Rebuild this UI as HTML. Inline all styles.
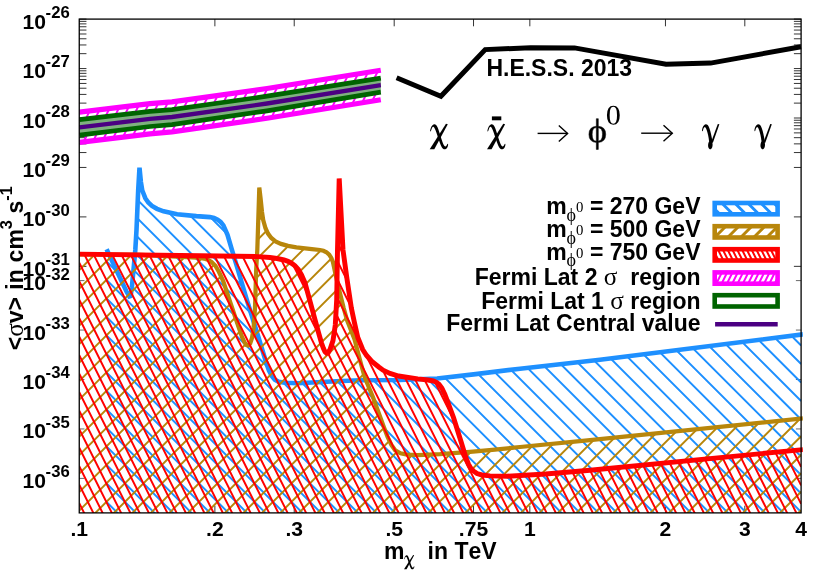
<!DOCTYPE html>
<html><head><meta charset="utf-8"><title>plot</title>
<style>html,body{margin:0;padding:0;background:#fff;}body{width:830px;height:581px;overflow:hidden;position:relative;font-family:"Liberation Sans",sans-serif;}</style>
</head><body>
<svg width="830" height="581" viewBox="0 0 830 581" style="display:block;position:absolute;left:0;top:0;will-change:transform;font-kerning:none">
<defs>
<clipPath id="cb"><polygon points="106.6,249.3 116.3,270.0 126.5,291.5 129.3,296.5 130.6,296.0 131.8,288.0 133.5,270.0 135.3,250.0 136.5,230.0 138.2,190.0 139.5,167.6 140.9,182.0 142.3,190.5 145.3,198.2 148.3,202.5 152.0,205.9 157.0,208.8 163.6,211.3 177.1,214.2 196.4,216.1 209.9,217.1 214.0,217.9 217.6,219.6 220.6,222.0 223.4,225.4 227.5,234.8 232.0,250.2 237.8,269.3 246.3,298.2 254.2,323.5 260.5,344.0 266.3,363.0 269.0,370.5 271.8,375.9 274.8,379.6 278.6,381.7 285.0,382.8 297.8,383.2 336.4,381.3 360.0,380.2 400.0,380.0 417.8,379.3 437.1,378.5 475.7,374.1 520.0,368.7 600.0,359.8 801.1,334.4 801.1,512.9 106.6,512.9"/></clipPath>
<clipPath id="cg"><polygon points="79.5,254.4 140.0,254.9 192.0,257.4 200.0,258.0 204.0,258.6 207.7,259.8 211.5,262.0 215.4,265.8 219.0,272.0 223.1,280.8 230.8,304.0 238.6,327.1 242.0,337.0 244.3,342.0 246.4,345.0 248.2,345.6 250.2,343.5 252.0,338.0 253.6,328.0 255.0,307.8 256.2,269.3 257.3,250.0 259.3,187.6 260.6,198.5 262.0,212.0 263.2,220.0 265.5,228.2 268.0,233.6 271.3,238.0 275.5,241.5 281.0,243.9 288.0,245.9 296.4,247.4 311.8,249.1 320.0,250.0 323.4,250.8 326.5,252.2 329.2,254.6 331.3,258.0 333.0,262.2 335.0,271.8 338.8,288.6 343.6,307.8 347.0,320.0 354.5,339.3 361.3,365.0 364.9,377.8 372.9,397.0 384.0,427.5 387.6,437.0 391.4,445.0 395.2,450.3 400.5,453.3 407.0,454.6 417.8,455.1 440.0,454.2 470.0,451.8 495.0,449.6 520.0,447.0 590.0,440.1 801.1,418.4 801.1,512.9 79.5,512.9"/></clipPath>
<clipPath id="cr"><polygon points="79.5,254.1 200.0,255.8 257.8,256.6 270.0,257.5 277.0,258.5 284.0,260.0 288.0,261.3 291.5,263.2 295.0,265.8 298.3,269.5 301.5,275.0 305.0,282.8 311.8,307.8 318.6,332.9 321.5,343.0 323.4,348.3 325.0,351.8 326.5,353.2 328.2,352.6 330.0,349.5 333.0,340.6 335.3,325.0 336.7,300.0 337.5,250.0 339.2,178.5 343.0,250.0 347.0,279.0 351.3,307.8 354.3,322.0 357.8,337.5 362.7,349.5 366.6,355.5 371.6,361.2 378.8,367.0 383.1,370.2 390.0,373.4 398.6,376.0 417.8,378.9 428.0,380.0 433.3,381.0 436.5,382.3 439.0,384.2 441.8,388.0 444.8,394.3 446.4,398.5 453.5,417.5 461.0,441.5 466.0,458.0 468.5,464.2 470.8,468.2 473.4,471.0 477.0,473.6 482.0,475.0 490.0,475.9 507.1,476.2 545.7,474.0 590.0,470.2 801.1,449.6 801.1,512.9 79.5,512.9"/></clipPath>
<clipPath id="cplot"><rect x="79.25" y="19.10" width="723.55" height="493.80"/></clipPath>
</defs>
<rect width="830" height="581" fill="#fff"/>
<path d="M79.25 478.40h5.20M801.10 478.40h-5.20M79.25 428.95h5.20M801.10 428.95h-5.20M79.25 379.50h5.20M801.10 379.50h-5.20M79.25 330.05h5.20M801.10 330.05h-5.20M79.25 280.60h5.20M801.10 280.60h-5.20" stroke="#444" stroke-width="0.8" fill="none"/>
<path d="M79.25 19.10h7.20M801.10 19.10h-7.20M79.25 68.55h7.20M801.10 68.55h-7.20M79.25 118.00h7.20M801.10 118.00h-7.20M79.25 167.45h7.20M801.10 167.45h-7.20M79.25 216.90h7.20M801.10 216.90h-7.20M79.25 266.35h7.20M801.10 266.35h-7.20M79.25 53.66h7.20M801.10 53.66h-7.20M79.25 44.96h7.20M801.10 44.96h-7.20M79.25 38.78h7.20M801.10 38.78h-7.20M79.25 33.99h7.20M801.10 33.99h-7.20M79.25 30.07h7.20M801.10 30.07h-7.20M79.25 26.76h7.20M801.10 26.76h-7.20M79.25 23.89h7.20M801.10 23.89h-7.20M79.25 21.36h7.20M801.10 21.36h-7.20M79.25 103.11h7.20M801.10 103.11h-7.20M79.25 94.41h7.20M801.10 94.41h-7.20M79.25 88.23h7.20M801.10 88.23h-7.20M79.25 83.44h7.20M801.10 83.44h-7.20M79.25 79.52h7.20M801.10 79.52h-7.20M79.25 76.21h7.20M801.10 76.21h-7.20M79.25 73.34h7.20M801.10 73.34h-7.20M79.25 70.81h7.20M801.10 70.81h-7.20M79.25 152.56h7.20M801.10 152.56h-7.20M79.25 143.86h7.20M801.10 143.86h-7.20M79.25 137.68h7.20M801.10 137.68h-7.20M79.25 132.89h7.20M801.10 132.89h-7.20M79.25 128.97h7.20M801.10 128.97h-7.20M79.25 125.66h7.20M801.10 125.66h-7.20M79.25 122.79h7.20M801.10 122.79h-7.20M79.25 120.26h7.20M801.10 120.26h-7.20M214.89 19.10v7.20M214.89 512.90v-7.20M294.23 19.10v7.20M294.23 512.90v-7.20M394.19 19.10v7.20M394.19 512.90v-7.20M473.53 19.10v7.20M473.53 512.90v-7.20M529.83 19.10v7.20M529.83 512.90v-7.20M665.46 19.10v7.20M665.46 512.90v-7.20M744.81 19.10v7.20M744.81 512.90v-7.20" stroke="#000" stroke-width="0.8" fill="none"/>
<g clip-path="url(#cplot)">
<path d="M79.25 -727.85L801.10 -6.00M79.25 -709.35L801.10 12.50M79.25 -690.85L801.10 31.00M79.25 -672.35L801.10 49.50M79.25 -653.85L801.10 68.00M79.25 -635.35L801.10 86.50M79.25 -616.85L801.10 105.00M79.25 -598.35L801.10 123.50M79.25 -579.85L801.10 142.00M79.25 -561.35L801.10 160.50M79.25 -542.85L801.10 179.00M79.25 -524.35L801.10 197.50M79.25 -505.85L801.10 216.00M79.25 -487.35L801.10 234.50M79.25 -468.85L801.10 253.00M79.25 -450.35L801.10 271.50M79.25 -431.85L801.10 290.00M79.25 -413.35L801.10 308.50M79.25 -394.85L801.10 327.00M79.25 -376.35L801.10 345.50M79.25 -357.85L801.10 364.00M79.25 -339.35L801.10 382.50M79.25 -320.85L801.10 401.00M79.25 -302.35L801.10 419.50M79.25 -283.85L801.10 438.00M79.25 -265.35L801.10 456.50M79.25 -246.85L801.10 475.00M79.25 -228.35L801.10 493.50M79.25 -209.85L801.10 512.00M79.25 -191.35L801.10 530.50M79.25 -172.85L801.10 549.00M79.25 -154.35L801.10 567.50M79.25 -135.85L801.10 586.00M79.25 -117.35L801.10 604.50M79.25 -98.85L801.10 623.00M79.25 -80.35L801.10 641.50M79.25 -61.85L801.10 660.00M79.25 -43.35L801.10 678.50M79.25 -24.85L801.10 697.00M79.25 -6.35L801.10 715.50M79.25 12.15L801.10 734.00M79.25 30.65L801.10 752.50M79.25 49.15L801.10 771.00M79.25 67.65L801.10 789.50M79.25 86.15L801.10 808.00M79.25 104.65L801.10 826.50M79.25 123.15L801.10 845.00M79.25 141.65L801.10 863.50M79.25 160.15L801.10 882.00M79.25 178.65L801.10 900.50M79.25 197.15L801.10 919.00M79.25 215.65L801.10 937.50M79.25 234.15L801.10 956.00M79.25 252.65L801.10 974.50M79.25 271.15L801.10 993.00M79.25 289.65L801.10 1011.50M79.25 308.15L801.10 1030.00M79.25 326.65L801.10 1048.50M79.25 345.15L801.10 1067.00M79.25 363.65L801.10 1085.50M79.25 382.15L801.10 1104.00M79.25 400.65L801.10 1122.50M79.25 419.15L801.10 1141.00M79.25 437.65L801.10 1159.50M79.25 456.15L801.10 1178.00M79.25 474.65L801.10 1196.50M79.25 493.15L801.10 1215.00M79.25 511.65L801.10 1233.50M79.25 530.15L801.10 1252.00M79.25 548.65L801.10 1270.50" stroke="#1e90ff" stroke-width="1.95" fill="none" clip-path="url(#cb)"/>
<polyline points="106.6,249.3 116.3,270.0 126.5,291.5 129.3,296.5 130.6,296.0 131.8,288.0 133.5,270.0 135.3,250.0 136.5,230.0 138.2,190.0 139.5,167.6 140.9,182.0 142.3,190.5 145.3,198.2 148.3,202.5 152.0,205.9 157.0,208.8 163.6,211.3 177.1,214.2 196.4,216.1 209.9,217.1 214.0,217.9 217.6,219.6 220.6,222.0 223.4,225.4 227.5,234.8 232.0,250.2 237.8,269.3 246.3,298.2 254.2,323.5 260.5,344.0 266.3,363.0 269.0,370.5 271.8,375.9 274.8,379.6 278.6,381.7 285.0,382.8 297.8,383.2 336.4,381.3 360.0,380.2 400.0,380.0 417.8,379.3 437.1,378.5 475.7,374.1 520.0,368.7 600.0,359.8 803.0,334.4" fill="none" stroke="#1e90ff" stroke-width="4.6" stroke-linejoin="miter" stroke-miterlimit="1.8"/>
<path d="M79.25 -7.45L801.10 -729.30M79.25 11.05L801.10 -710.80M79.25 29.55L801.10 -692.30M79.25 48.05L801.10 -673.80M79.25 66.55L801.10 -655.30M79.25 85.05L801.10 -636.80M79.25 103.55L801.10 -618.30M79.25 122.05L801.10 -599.80M79.25 140.55L801.10 -581.30M79.25 159.05L801.10 -562.80M79.25 177.55L801.10 -544.30M79.25 196.05L801.10 -525.80M79.25 214.55L801.10 -507.30M79.25 233.05L801.10 -488.80M79.25 251.55L801.10 -470.30M79.25 270.05L801.10 -451.80M79.25 288.55L801.10 -433.30M79.25 307.05L801.10 -414.80M79.25 325.55L801.10 -396.30M79.25 344.05L801.10 -377.80M79.25 362.55L801.10 -359.30M79.25 381.05L801.10 -340.80M79.25 399.55L801.10 -322.30M79.25 418.05L801.10 -303.80M79.25 436.55L801.10 -285.30M79.25 455.05L801.10 -266.80M79.25 473.55L801.10 -248.30M79.25 492.05L801.10 -229.80M79.25 510.55L801.10 -211.30M79.25 529.05L801.10 -192.80M79.25 547.55L801.10 -174.30M79.25 566.05L801.10 -155.80M79.25 584.55L801.10 -137.30M79.25 603.05L801.10 -118.80M79.25 621.55L801.10 -100.30M79.25 640.05L801.10 -81.80M79.25 658.55L801.10 -63.30M79.25 677.05L801.10 -44.80M79.25 695.55L801.10 -26.30M79.25 714.05L801.10 -7.80M79.25 732.55L801.10 10.70M79.25 751.05L801.10 29.20M79.25 769.55L801.10 47.70M79.25 788.05L801.10 66.20M79.25 806.55L801.10 84.70M79.25 825.05L801.10 103.20M79.25 843.55L801.10 121.70M79.25 862.05L801.10 140.20M79.25 880.55L801.10 158.70M79.25 899.05L801.10 177.20M79.25 917.55L801.10 195.70M79.25 936.05L801.10 214.20M79.25 954.55L801.10 232.70M79.25 973.05L801.10 251.20M79.25 991.55L801.10 269.70M79.25 1010.05L801.10 288.20M79.25 1028.55L801.10 306.70M79.25 1047.05L801.10 325.20M79.25 1065.55L801.10 343.70M79.25 1084.05L801.10 362.20M79.25 1102.55L801.10 380.70M79.25 1121.05L801.10 399.20M79.25 1139.55L801.10 417.70M79.25 1158.05L801.10 436.20M79.25 1176.55L801.10 454.70M79.25 1195.05L801.10 473.20M79.25 1213.55L801.10 491.70M79.25 1232.05L801.10 510.20M79.25 1250.55L801.10 528.70M79.25 1269.05L801.10 547.20" stroke="#b8860b" stroke-width="1.95" fill="none" clip-path="url(#cg)"/>
<polyline points="79.5,254.4 140.0,254.9 192.0,257.4 200.0,258.0 204.0,258.6 207.7,259.8 211.5,262.0 215.4,265.8 219.0,272.0 223.1,280.8 230.8,304.0 238.6,327.1 242.0,337.0 244.3,342.0 246.4,345.0 248.2,345.6 250.2,343.5 252.0,338.0 253.6,328.0 255.0,307.8 256.2,269.3 257.3,250.0 259.3,187.6 260.6,198.5 262.0,212.0 263.2,220.0 265.5,228.2 268.0,233.6 271.3,238.0 275.5,241.5 281.0,243.9 288.0,245.9 296.4,247.4 311.8,249.1 320.0,250.0 323.4,250.8 326.5,252.2 329.2,254.6 331.3,258.0 333.0,262.2 335.0,271.8 338.8,288.6 343.6,307.8 347.0,320.0 354.5,339.3 361.3,365.0 364.9,377.8 372.9,397.0 384.0,427.5 387.6,437.0 391.4,445.0 395.2,450.3 400.5,453.3 407.0,454.6 417.8,455.1 440.0,454.2 470.0,451.8 495.0,449.6 520.0,447.0 590.0,440.1 803.0,418.4" fill="none" stroke="#b8860b" stroke-width="4.25" stroke-linejoin="miter" stroke-miterlimit="1.8"/>
<path d="M79.25 -1457.80L801.10 -14.10M79.25 -1439.30L801.10 4.40M79.25 -1420.80L801.10 22.90M79.25 -1402.30L801.10 41.40M79.25 -1383.80L801.10 59.90M79.25 -1365.30L801.10 78.40M79.25 -1346.80L801.10 96.90M79.25 -1328.30L801.10 115.40M79.25 -1309.80L801.10 133.90M79.25 -1291.30L801.10 152.40M79.25 -1272.80L801.10 170.90M79.25 -1254.30L801.10 189.40M79.25 -1235.80L801.10 207.90M79.25 -1217.30L801.10 226.40M79.25 -1198.80L801.10 244.90M79.25 -1180.30L801.10 263.40M79.25 -1161.80L801.10 281.90M79.25 -1143.30L801.10 300.40M79.25 -1124.80L801.10 318.90M79.25 -1106.30L801.10 337.40M79.25 -1087.80L801.10 355.90M79.25 -1069.30L801.10 374.40M79.25 -1050.80L801.10 392.90M79.25 -1032.30L801.10 411.40M79.25 -1013.80L801.10 429.90M79.25 -995.30L801.10 448.40M79.25 -976.80L801.10 466.90M79.25 -958.30L801.10 485.40M79.25 -939.80L801.10 503.90M79.25 -921.30L801.10 522.40M79.25 -902.80L801.10 540.90M79.25 -884.30L801.10 559.40M79.25 -865.80L801.10 577.90M79.25 -847.30L801.10 596.40M79.25 -828.80L801.10 614.90M79.25 -810.30L801.10 633.40M79.25 -791.80L801.10 651.90M79.25 -773.30L801.10 670.40M79.25 -754.80L801.10 688.90M79.25 -736.30L801.10 707.40M79.25 -717.80L801.10 725.90M79.25 -699.30L801.10 744.40M79.25 -680.80L801.10 762.90M79.25 -662.30L801.10 781.40M79.25 -643.80L801.10 799.90M79.25 -625.30L801.10 818.40M79.25 -606.80L801.10 836.90M79.25 -588.30L801.10 855.40M79.25 -569.80L801.10 873.90M79.25 -551.30L801.10 892.40M79.25 -532.80L801.10 910.90M79.25 -514.30L801.10 929.40M79.25 -495.80L801.10 947.90M79.25 -477.30L801.10 966.40M79.25 -458.80L801.10 984.90M79.25 -440.30L801.10 1003.40M79.25 -421.80L801.10 1021.90M79.25 -403.30L801.10 1040.40M79.25 -384.80L801.10 1058.90M79.25 -366.30L801.10 1077.40M79.25 -347.80L801.10 1095.90M79.25 -329.30L801.10 1114.40M79.25 -310.80L801.10 1132.90M79.25 -292.30L801.10 1151.40M79.25 -273.80L801.10 1169.90M79.25 -255.30L801.10 1188.40M79.25 -236.80L801.10 1206.90M79.25 -218.30L801.10 1225.40M79.25 -199.80L801.10 1243.90M79.25 -181.30L801.10 1262.40M79.25 -162.80L801.10 1280.90M79.25 -144.30L801.10 1299.40M79.25 -125.80L801.10 1317.90M79.25 -107.30L801.10 1336.40M79.25 -88.80L801.10 1354.90M79.25 -70.30L801.10 1373.40M79.25 -51.80L801.10 1391.90M79.25 -33.30L801.10 1410.40M79.25 -14.80L801.10 1428.90M79.25 3.70L801.10 1447.40M79.25 22.20L801.10 1465.90M79.25 40.70L801.10 1484.40M79.25 59.20L801.10 1502.90M79.25 77.70L801.10 1521.40M79.25 96.20L801.10 1539.90M79.25 114.70L801.10 1558.40M79.25 133.20L801.10 1576.90M79.25 151.70L801.10 1595.40M79.25 170.20L801.10 1613.90M79.25 188.70L801.10 1632.40M79.25 207.20L801.10 1650.90M79.25 225.70L801.10 1669.40M79.25 244.20L801.10 1687.90M79.25 262.70L801.10 1706.40M79.25 281.20L801.10 1724.90M79.25 299.70L801.10 1743.40M79.25 318.20L801.10 1761.90M79.25 336.70L801.10 1780.40M79.25 355.20L801.10 1798.90M79.25 373.70L801.10 1817.40M79.25 392.20L801.10 1835.90M79.25 410.70L801.10 1854.40M79.25 429.20L801.10 1872.90M79.25 447.70L801.10 1891.40M79.25 466.20L801.10 1909.90M79.25 484.70L801.10 1928.40M79.25 503.20L801.10 1946.90M79.25 521.70L801.10 1965.40M79.25 540.20L801.10 1983.90" stroke="#ff0000" stroke-width="1.95" fill="none" clip-path="url(#cr)"/>
<polyline points="79.5,254.1 200.0,255.8 257.8,256.6 270.0,257.5 277.0,258.5 284.0,260.0 288.0,261.3 291.5,263.2 295.0,265.8 298.3,269.5 301.5,275.0 305.0,282.8 311.8,307.8 318.6,332.9 321.5,343.0 323.4,348.3 325.0,351.8 326.5,353.2 328.2,352.6 330.0,349.5 333.0,340.6 335.3,325.0 336.7,300.0 337.5,250.0 339.2,178.5 343.0,250.0 347.0,279.0 351.3,307.8 354.3,322.0 357.8,337.5 362.7,349.5 366.6,355.5 371.6,361.2 378.8,367.0 383.1,370.2 390.0,373.4 398.6,376.0 417.8,378.9 428.0,380.0 433.3,381.0 436.5,382.3 439.0,384.2 441.8,388.0 444.8,394.3 446.4,398.5 453.5,417.5 461.0,441.5 466.0,458.0 468.5,464.2 470.8,468.2 473.4,471.0 477.0,473.6 482.0,475.0 490.0,475.9 507.1,476.2 545.7,474.0 590.0,470.2 803.0,449.6" fill="none" stroke="#ff0000" stroke-width="4.95" stroke-linejoin="miter" stroke-miterlimit="1.8"/>
</g>
<clipPath id="cm"><polygon points="79.5,112.2 150.0,103.7 172.0,101.9 267.0,88.5 380.8,70.2 380.8,99.8 267.0,118.3 172.0,131.9 150.0,133.8 79.5,142.4"/></clipPath>
<path d="M60.00 -14.60L400.00 -694.60M60.00 3.90L400.00 -676.10M60.00 22.40L400.00 -657.60M60.00 40.90L400.00 -639.10M60.00 59.40L400.00 -620.60M60.00 77.90L400.00 -602.10M60.00 96.40L400.00 -583.60M60.00 114.90L400.00 -565.10M60.00 133.40L400.00 -546.60M60.00 151.90L400.00 -528.10M60.00 170.40L400.00 -509.60M60.00 188.90L400.00 -491.10M60.00 207.40L400.00 -472.60M60.00 225.90L400.00 -454.10M60.00 244.40L400.00 -435.60M60.00 262.90L400.00 -417.10M60.00 281.40L400.00 -398.60M60.00 299.90L400.00 -380.10M60.00 318.40L400.00 -361.60M60.00 336.90L400.00 -343.10M60.00 355.40L400.00 -324.60M60.00 373.90L400.00 -306.10M60.00 392.40L400.00 -287.60M60.00 410.90L400.00 -269.10M60.00 429.40L400.00 -250.60M60.00 447.90L400.00 -232.10M60.00 466.40L400.00 -213.60M60.00 484.90L400.00 -195.10M60.00 503.40L400.00 -176.60M60.00 521.90L400.00 -158.10M60.00 540.40L400.00 -139.60M60.00 558.90L400.00 -121.10M60.00 577.40L400.00 -102.60M60.00 595.90L400.00 -84.10M60.00 614.40L400.00 -65.60M60.00 632.90L400.00 -47.10M60.00 651.40L400.00 -28.60M60.00 669.90L400.00 -10.10M60.00 688.40L400.00 8.40M60.00 706.90L400.00 26.90M60.00 725.40L400.00 45.40M60.00 743.90L400.00 63.90M60.00 762.40L400.00 82.40M60.00 780.90L400.00 100.90M60.00 799.40L400.00 119.40M60.00 817.90L400.00 137.90M60.00 836.40L400.00 156.40M60.00 854.90L400.00 174.90M60.00 873.40L400.00 193.40M60.00 891.90L400.00 211.90M60.00 910.40L400.00 230.40M60.00 928.90L400.00 248.90M60.00 947.40L400.00 267.40M60.00 965.90L400.00 285.90M60.00 984.40L400.00 304.40M60.00 1002.90L400.00 322.90M60.00 1021.40L400.00 341.40M60.00 1039.90L400.00 359.90M60.00 1058.40L400.00 378.40M60.00 1076.90L400.00 396.90M60.00 1095.40L400.00 415.40M60.00 1113.90L400.00 433.90M60.00 1132.40L400.00 452.40M60.00 1150.90L400.00 470.90M60.00 1169.40L400.00 489.40M60.00 1187.90L400.00 507.90M60.00 1206.40L400.00 526.40M60.00 1224.90L400.00 544.90" stroke="#ff00ff" stroke-width="1.95" fill="none" clip-path="url(#cm)"/>
<polyline points="79.5,112.2 150.0,103.7 172.0,101.9 267.0,88.5 380.8,70.2" fill="none" stroke="#ff00ff" stroke-width="5.2"/>
<polyline points="79.5,142.4 150.0,133.8 172.0,131.9 267.0,118.3 380.8,99.8" fill="none" stroke="#ff00ff" stroke-width="5.2"/>
<polygon points="79.5,119.7 150.0,111.3 172.0,109.6 267.0,96.2 380.8,78.1 380.8,92.1 267.0,110.8 172.0,124.6 150.0,126.5 79.5,135.2" fill="#7fb17f"/>
<polyline points="79.5,119.7 150.0,111.3 172.0,109.6 267.0,96.2 380.8,78.1" fill="none" stroke="#006400" stroke-width="4.7"/>
<polyline points="79.5,135.2 150.0,126.5 172.0,124.6 267.0,110.8 380.8,92.1" fill="none" stroke="#006400" stroke-width="4.7"/>
<polyline points="79.5,127.3 150.0,118.8 172.0,117.0 267.0,103.5 380.8,85.2" fill="none" stroke="#4b0082" stroke-width="4.3"/>
<polyline points="396.6,77.8 440.9,96.3 485.2,49.6 530.5,47.7 574.5,47.9 666.0,64.2 710.6,63.1 801.0,46.8" fill="none" stroke="#000" stroke-width="5" stroke-linejoin="miter"/>
<rect x="79.25" y="19.10" width="721.85" height="493.80" fill="none" stroke="#000" stroke-width="1.3"/>
<text x="45.9" y="28.60" text-anchor="end" font-family="Liberation Sans, sans-serif" font-weight="bold" font-size="21.1">10</text>
<text x="45.6" y="18.00" font-family="Liberation Sans, sans-serif" font-weight="bold" font-size="16.7">-26</text>
<text x="45.9" y="78.05" text-anchor="end" font-family="Liberation Sans, sans-serif" font-weight="bold" font-size="21.1">10</text>
<text x="45.6" y="67.45" font-family="Liberation Sans, sans-serif" font-weight="bold" font-size="16.7">-27</text>
<text x="45.9" y="127.50" text-anchor="end" font-family="Liberation Sans, sans-serif" font-weight="bold" font-size="21.1">10</text>
<text x="45.6" y="116.90" font-family="Liberation Sans, sans-serif" font-weight="bold" font-size="16.7">-28</text>
<text x="45.9" y="176.95" text-anchor="end" font-family="Liberation Sans, sans-serif" font-weight="bold" font-size="21.1">10</text>
<text x="45.6" y="166.35" font-family="Liberation Sans, sans-serif" font-weight="bold" font-size="16.7">-29</text>
<text x="45.9" y="226.40" text-anchor="end" font-family="Liberation Sans, sans-serif" font-weight="bold" font-size="21.1">10</text>
<text x="45.6" y="215.80" font-family="Liberation Sans, sans-serif" font-weight="bold" font-size="16.7">-30</text>
<text x="45.9" y="275.85" text-anchor="end" font-family="Liberation Sans, sans-serif" font-weight="bold" font-size="21.1">10</text>
<text x="45.6" y="265.25" font-family="Liberation Sans, sans-serif" font-weight="bold" font-size="16.7">-31</text>
<text x="45.9" y="290.10" text-anchor="end" font-family="Liberation Sans, sans-serif" font-weight="bold" font-size="21.1">10</text>
<text x="45.6" y="279.50" font-family="Liberation Sans, sans-serif" font-weight="bold" font-size="16.7">-32</text>
<text x="45.9" y="339.55" text-anchor="end" font-family="Liberation Sans, sans-serif" font-weight="bold" font-size="21.1">10</text>
<text x="45.6" y="328.95" font-family="Liberation Sans, sans-serif" font-weight="bold" font-size="16.7">-33</text>
<text x="45.9" y="389.00" text-anchor="end" font-family="Liberation Sans, sans-serif" font-weight="bold" font-size="21.1">10</text>
<text x="45.6" y="378.40" font-family="Liberation Sans, sans-serif" font-weight="bold" font-size="16.7">-34</text>
<text x="45.9" y="438.45" text-anchor="end" font-family="Liberation Sans, sans-serif" font-weight="bold" font-size="21.1">10</text>
<text x="45.6" y="427.85" font-family="Liberation Sans, sans-serif" font-weight="bold" font-size="16.7">-35</text>
<text x="45.9" y="487.90" text-anchor="end" font-family="Liberation Sans, sans-serif" font-weight="bold" font-size="21.1">10</text>
<text x="45.6" y="477.30" font-family="Liberation Sans, sans-serif" font-weight="bold" font-size="16.7">-36</text>
<text x="79.25" y="535.9" text-anchor="middle" font-family="Liberation Sans, sans-serif" font-weight="bold" font-size="21.1">.1</text>
<text x="214.89" y="535.9" text-anchor="middle" font-family="Liberation Sans, sans-serif" font-weight="bold" font-size="21.1">.2</text>
<text x="294.23" y="535.9" text-anchor="middle" font-family="Liberation Sans, sans-serif" font-weight="bold" font-size="21.1">.3</text>
<text x="394.19" y="535.9" text-anchor="middle" font-family="Liberation Sans, sans-serif" font-weight="bold" font-size="21.1">.5</text>
<text x="473.53" y="535.9" text-anchor="middle" font-family="Liberation Sans, sans-serif" font-weight="bold" font-size="21.1">.75</text>
<text x="529.83" y="535.9" text-anchor="middle" font-family="Liberation Sans, sans-serif" font-weight="bold" font-size="21.1">1</text>
<text x="665.46" y="535.9" text-anchor="middle" font-family="Liberation Sans, sans-serif" font-weight="bold" font-size="21.1">2</text>
<text x="744.81" y="535.9" text-anchor="middle" font-family="Liberation Sans, sans-serif" font-weight="bold" font-size="21.1">3</text>
<text x="801.10" y="535.9" text-anchor="middle" font-family="Liberation Sans, sans-serif" font-weight="bold" font-size="21.1">4</text>
<text x="384.1" y="558.6" font-family="Liberation Sans, sans-serif" font-weight="bold" font-size="23.0">m</text>
<text x="427.6" y="558.6" font-family="Liberation Sans, sans-serif" font-weight="bold" font-size="23.0">in TeV</text>
<text transform="translate(23.3,350.3) rotate(-90)" font-family="Liberation Sans, sans-serif" font-weight="bold" font-size="23.0">&lt;<tspan font-family="Liberation Serif, serif" font-weight="normal" font-size="25.2">&#963;</tspan>v&gt;<tspan dx="7.4">in</tspan><tspan dx="6.8">cm</tspan><tspan font-size="16.3" dy="-11.1">3</tspan><tspan dy="11.1" dx="6.6">s</tspan><tspan font-size="16.3" dy="-11.1">-1</tspan></text>
<text x="486.4" y="76.2" font-family="Liberation Sans, sans-serif" font-weight="bold" font-size="23.0">H.E.S.S. 2013</text>
<g fill="#000">
<g transform="translate(422.00,105.00) scale(0.12048)"><path d="M70.0 220.0Q66.0 219.0 68.0 209.5Q70.0 200.0 74.0 189.0Q78.0 178.0 85.0 169.5Q92.0 161.0 100.0 159.5Q108.0 158.0 115.0 164.0Q122.0 170.0 129.0 185.0Q136.0 200.0 144.5 227.5Q153.0 255.0 161.5 281.5Q170.0 308.0 176.5 323.0Q183.0 338.0 189.5 342.0Q196.0 346.0 201.0 340.0Q206.0 334.0 208.5 327.0Q211.0 320.0 214.5 321.0Q218.0 322.0 216.5 332.0Q215.0 342.0 210.0 352.0Q205.0 362.0 197.5 366.0Q190.0 370.0 181.0 366.5Q172.0 363.0 164.0 350.0Q156.0 337.0 146.5 309.5Q137.0 282.0 127.5 253.0Q118.0 224.0 111.5 208.0Q105.0 192.0 101.0 186.0Q97.0 180.0 92.5 180.5Q88.0 181.0 84.0 188.0Q80.0 195.0 77.0 208.0Q74.0 221.0 70.0 220.0Z"/><path d="M199 156L214 160L102 367L64 367Z"/></g>
<g transform="translate(479.30,105.00) scale(0.12048)"><path d="M70.0 220.0Q66.0 219.0 68.0 209.5Q70.0 200.0 74.0 189.0Q78.0 178.0 85.0 169.5Q92.0 161.0 100.0 159.5Q108.0 158.0 115.0 164.0Q122.0 170.0 129.0 185.0Q136.0 200.0 144.5 227.5Q153.0 255.0 161.5 281.5Q170.0 308.0 176.5 323.0Q183.0 338.0 189.5 342.0Q196.0 346.0 201.0 340.0Q206.0 334.0 208.5 327.0Q211.0 320.0 214.5 321.0Q218.0 322.0 216.5 332.0Q215.0 342.0 210.0 352.0Q205.0 362.0 197.5 366.0Q190.0 370.0 181.0 366.5Q172.0 363.0 164.0 350.0Q156.0 337.0 146.5 309.5Q137.0 282.0 127.5 253.0Q118.0 224.0 111.5 208.0Q105.0 192.0 101.0 186.0Q97.0 180.0 92.5 180.5Q88.0 181.0 84.0 188.0Q80.0 195.0 77.0 208.0Q74.0 221.0 70.0 220.0Z"/><path d="M199 156L214 160L102 367L64 367Z"/></g>
<g transform="translate(399.70,544.50) scale(0.06750)"><path d="M70.0 220.0Q66.0 219.0 68.0 209.5Q70.0 200.0 74.0 189.0Q78.0 178.0 85.0 169.5Q92.0 161.0 100.0 159.5Q108.0 158.0 115.0 164.0Q122.0 170.0 129.0 185.0Q136.0 200.0 144.5 227.5Q153.0 255.0 161.5 281.5Q170.0 308.0 176.5 323.0Q183.0 338.0 189.5 342.0Q196.0 346.0 201.0 340.0Q206.0 334.0 208.5 327.0Q211.0 320.0 214.5 321.0Q218.0 322.0 216.5 332.0Q215.0 342.0 210.0 352.0Q205.0 362.0 197.5 366.0Q190.0 370.0 181.0 366.5Q172.0 363.0 164.0 350.0Q156.0 337.0 146.5 309.5Q137.0 282.0 127.5 253.0Q118.0 224.0 111.5 208.0Q105.0 192.0 101.0 186.0Q97.0 180.0 92.5 180.5Q88.0 181.0 84.0 188.0Q80.0 195.0 77.0 208.0Q74.0 221.0 70.0 220.0Z"/><path d="M199 156L214 160L102 367L64 367Z"/></g>
<rect x="491.9" y="116.4" width="9.4" height="3.9"/>
<g transform="translate(690.00,105.00) scale(0.12048)"><path d="M102.5 218.0Q99.0 216.0 100.0 206.5Q101.0 197.0 105.0 186.5Q109.0 176.0 116.5 167.5Q124.0 159.0 132.0 159.0Q140.0 159.0 147.0 166.5Q154.0 174.0 161.0 193.0Q168.0 212.0 173.5 237.0Q179.0 262.0 182.5 281.0Q186.0 300.0 186.5 309.0Q187.0 318.0 173.5 318.0Q160.0 318.0 157.5 295.0Q155.0 272.0 150.0 249.0Q145.0 226.0 139.0 209.5Q133.0 193.0 128.5 187.5Q124.0 182.0 120.0 184.0Q116.0 186.0 113.0 193.5Q110.0 201.0 108.0 210.5Q106.0 220.0 102.5 218.0Z"/><path d="M231 157L244 160L190 313L176 306Z"/><path d="M169.5 294.5Q177.0 292.0 182.0 302.0Q187.0 312.0 187.5 326.0Q188.0 340.0 184.5 351.0Q181.0 362.0 174.5 366.0Q168.0 370.0 161.5 366.0Q155.0 362.0 152.0 351.0Q149.0 340.0 150.5 327.5Q152.0 315.0 157.0 306.0Q162.0 297.0 169.5 294.5Z"/></g>
<g transform="translate(742.40,105.00) scale(0.12048)"><path d="M102.5 218.0Q99.0 216.0 100.0 206.5Q101.0 197.0 105.0 186.5Q109.0 176.0 116.5 167.5Q124.0 159.0 132.0 159.0Q140.0 159.0 147.0 166.5Q154.0 174.0 161.0 193.0Q168.0 212.0 173.5 237.0Q179.0 262.0 182.5 281.0Q186.0 300.0 186.5 309.0Q187.0 318.0 173.5 318.0Q160.0 318.0 157.5 295.0Q155.0 272.0 150.0 249.0Q145.0 226.0 139.0 209.5Q133.0 193.0 128.5 187.5Q124.0 182.0 120.0 184.0Q116.0 186.0 113.0 193.5Q110.0 201.0 108.0 210.5Q106.0 220.0 102.5 218.0Z"/><path d="M231 157L244 160L190 313L176 306Z"/><path d="M169.5 294.5Q177.0 292.0 182.0 302.0Q187.0 312.0 187.5 326.0Q188.0 340.0 184.5 351.0Q181.0 362.0 174.5 366.0Q168.0 370.0 161.5 366.0Q155.0 362.0 152.0 351.0Q149.0 340.0 150.5 327.5Q152.0 315.0 157.0 306.0Q162.0 297.0 169.5 294.5Z"/></g>
</g>
<g fill="#000">
<g stroke="#000" stroke-width="30">
<path transform="translate(587.70,142.20) scale(0.01788,-0.01655)" d="M483 -436V-18Q69 10 69 475Q69 698 171.5 823.0Q274 948 483 963V1421H593V963Q798 949 902.5 826.0Q1007 703 1007 475Q1007 14 593 -17V-436ZM249 475Q249 265 305.0 170.0Q361 75 483 61V882Q361 868 305.0 775.0Q249 682 249 475ZM827 475Q827 668 770.0 765.0Q713 862 593 880V63Q711 81 769.0 179.5Q827 278 827 475Z"/>
</g>
<path transform="translate(605.80,124.50) scale(0.01473,-0.01377)" d="M946 676Q946 -20 506 -20Q294 -20 186.0 158.0Q78 336 78 676Q78 1009 186.0 1185.5Q294 1362 514 1362Q726 1362 836.0 1187.5Q946 1013 946 676ZM762 676Q762 998 701.0 1140.0Q640 1282 506 1282Q376 1282 319.0 1148.0Q262 1014 262 676Q262 336 320.0 197.5Q378 59 506 59Q638 59 700.0 204.5Q762 350 762 676Z"/>
</g>
<path d="M537.6 133.4H567.6" stroke="#000" stroke-width="1.4" fill="none"/><path d="M558.8 125.4L567.6 133.4L558.8 141.4" stroke="#000" stroke-width="1.4" fill="none" stroke-linejoin="miter"/>
<path d="M641.2 133.2H672.3" stroke="#000" stroke-width="1.4" fill="none"/><path d="M663.5 125.2L672.3 133.2L663.5 141.2" stroke="#000" stroke-width="1.4" fill="none" stroke-linejoin="miter"/>
<text x="700.5" y="214.1" text-anchor="end" font-family="Liberation Sans, sans-serif" font-weight="bold" font-size="23.0">m<tspan font-family="Liberation Serif, serif" font-weight="normal" font-size="18" dy="6.5">&#981;</tspan><tspan font-family="Liberation Serif, serif" font-weight="normal" font-size="14.8" dy="-8.8">0</tspan><tspan dy="2.3"> = 270 GeV</tspan></text>
<text x="700.5" y="237.1" text-anchor="end" font-family="Liberation Sans, sans-serif" font-weight="bold" font-size="23.0">m<tspan font-family="Liberation Serif, serif" font-weight="normal" font-size="18" dy="6.5">&#981;</tspan><tspan font-family="Liberation Serif, serif" font-weight="normal" font-size="14.8" dy="-8.8">0</tspan><tspan dy="2.3"> = 500 GeV</tspan></text>
<text x="700.5" y="259.9" text-anchor="end" font-family="Liberation Sans, sans-serif" font-weight="bold" font-size="23.0">m<tspan font-family="Liberation Serif, serif" font-weight="normal" font-size="18" dy="6.5">&#981;</tspan><tspan font-family="Liberation Serif, serif" font-weight="normal" font-size="14.8" dy="-8.8">0</tspan><tspan dy="2.3"> = 750 GeV</tspan></text>
<text x="700.5" y="285.3" text-anchor="end" font-family="Liberation Sans, sans-serif" font-weight="bold" font-size="23.0">Fermi Lat 2 <tspan font-family="Liberation Serif, serif" font-weight="normal" font-size="25.2">&#963;</tspan><tspan dx="6.4"> region</tspan></text>
<text x="700.5" y="308.5" text-anchor="end" font-family="Liberation Sans, sans-serif" font-weight="bold" font-size="23.0">Fermi Lat 1 <tspan font-family="Liberation Serif, serif" font-weight="normal" font-size="25.2">&#963;</tspan> region</text>
<text x="700.5" y="331.2" text-anchor="end" font-family="Liberation Sans, sans-serif" font-weight="bold" font-size="23.0">Fermi Lat Central value</text>
<clipPath id="lb1"><rect x="714.7" y="203.0" width="62.9" height="11.3"/></clipPath><rect x="714.7" y="203.0" width="62.9" height="11.3" fill="#fff"/><path d="M706.7 201.0L722.0 216.3M719.7 201.0L735.0 216.3M732.7 201.0L748.0 216.3M745.7 201.0L761.0 216.3M758.7 201.0L774.0 216.3M771.7 201.0L787.0 216.3M784.7 201.0L800.0 216.3" stroke="#1e90ff" stroke-width="2.9" fill="none" clip-path="url(#lb1)"/><rect x="714.7" y="203.0" width="62.9" height="11.3" fill="none" stroke="#1e90ff" stroke-width="4.6"/>
<clipPath id="lb2"><rect x="714.7" y="226.2" width="62.9" height="11.3"/></clipPath><rect x="714.7" y="226.2" width="62.9" height="11.3" fill="#fff"/><path d="M712.6 239.5L727.9 224.2M725.6 239.5L740.9 224.2M738.6 239.5L753.9 224.2M751.6 239.5L766.9 224.2M764.6 239.5L779.9 224.2M777.6 239.5L792.9 224.2M790.6 239.5L805.9 224.2" stroke="#b8860b" stroke-width="2.9" fill="none" clip-path="url(#lb2)"/><rect x="714.7" y="226.2" width="62.9" height="11.3" fill="none" stroke="#b8860b" stroke-width="4.6"/>
<clipPath id="lb3"><rect x="714.7" y="249.2" width="62.9" height="11.3"/></clipPath><rect x="714.7" y="249.2" width="62.9" height="11.3" fill="#fff"/><path d="M712.0 247.2L719.6 262.5M716.8 247.2L724.4 262.5M721.6 247.2L729.2 262.5M726.4 247.2L734.0 262.5M731.2 247.2L738.8 262.5M736.0 247.2L743.6 262.5M740.8 247.2L748.4 262.5M745.6 247.2L753.2 262.5M750.4 247.2L758.0 262.5M755.2 247.2L762.8 262.5M760.0 247.2L767.6 262.5M764.8 247.2L772.4 262.5M769.6 247.2L777.2 262.5M774.4 247.2L782.0 262.5M779.2 247.2L786.8 262.5M784.0 247.2L791.6 262.5M788.8 247.2L796.4 262.5" stroke="#ff0000" stroke-width="2.0" fill="none" clip-path="url(#lb3)"/><rect x="714.7" y="249.2" width="62.9" height="11.3" fill="none" stroke="#ff0000" stroke-width="4.6"/>
<clipPath id="lb4"><rect x="714.7" y="272.4" width="62.9" height="11.3"/></clipPath><rect x="714.7" y="272.4" width="62.9" height="11.3" fill="#fff"/><path d="M710.0 285.7L717.6 270.4M715.3 285.7L722.9 270.4M720.6 285.7L728.2 270.4M725.9 285.7L733.5 270.4M731.2 285.7L738.8 270.4M736.5 285.7L744.1 270.4M741.8 285.7L749.4 270.4M747.1 285.7L754.7 270.4M752.4 285.7L760.0 270.4M757.7 285.7L765.3 270.4M763.0 285.7L770.6 270.4M768.3 285.7L775.9 270.4M773.6 285.7L781.2 270.4M778.9 285.7L786.5 270.4M784.2 285.7L791.8 270.4M789.5 285.7L797.1 270.4" stroke="#ff00ff" stroke-width="2.0" fill="none" clip-path="url(#lb4)"/><rect x="714.7" y="272.4" width="62.9" height="11.3" fill="none" stroke="#ff00ff" stroke-width="4.6"/>
<clipPath id="lb5"><rect x="714.7" y="295.2" width="62.9" height="11.3"/></clipPath><rect x="714.7" y="295.2" width="62.9" height="11.3" fill="#fff"/><rect x="714.7" y="295.2" width="62.9" height="11.3" fill="none" stroke="#006400" stroke-width="4.6"/>
<path d="M715.1 324.2H777.7" stroke="#4b0082" stroke-width="4.6"/>
</svg>
</body></html>
